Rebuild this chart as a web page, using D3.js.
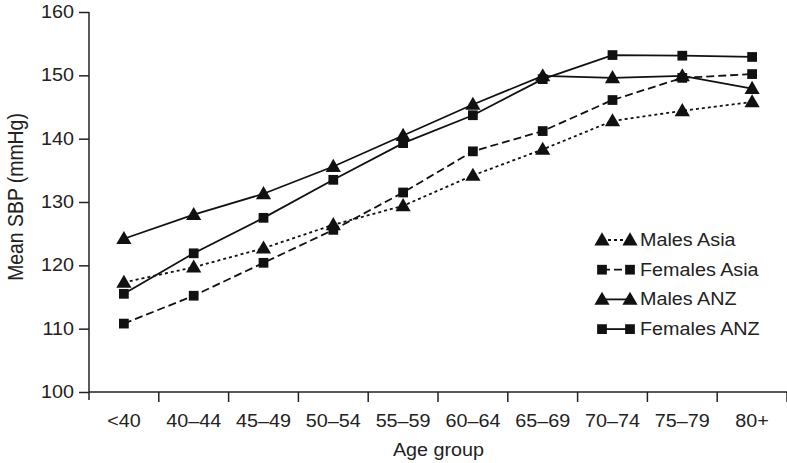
<!DOCTYPE html>
<html><head><meta charset="utf-8">
<script src="https://cdn.jsdelivr.net/npm/d3@7"></script>
<style>
html,body{margin:0;padding:0;background:#fff;}
text{font-family:"Liberation Sans",Arial,Helvetica,sans-serif;fill:#222;}
</style></head>
<body>
<svg id="chart" width="787" height="463"></svg>
<script>
const categories = ["<40","40–44","45–49","50–54","55–59","60–64","65–69","70–74","75–79","80+"];
const malesAsia   = [117.3,119.7,122.7,126.4,129.4,134.2,138.3,142.8,144.4,145.8];
const femalesAsia = [110.8,115.2,120.4,125.6,131.5,138.0,141.2,146.1,149.6,150.2];
const malesANZ    = [124.2,128.0,131.3,135.6,140.5,145.4,149.9,149.6,149.9,147.9];
const femalesANZ  = [115.5,121.9,127.5,133.5,139.3,143.7,149.4,153.2,153.1,152.9];
const yTicks = [100,110,120,130,140,150,160];
const seriesNames = ["Males Asia","Females Asia","Males ANZ","Females ANZ"];

(function(){
const series = [
  {name: seriesNames[0], values: malesAsia,   dash: "3,3", symbol: d3.symbolTriangle},
  {name: seriesNames[1], values: femalesAsia, dash: "8,4", symbol: d3.symbolSquare},
  {name: seriesNames[2], values: malesANZ,    dash: null,  symbol: d3.symbolTriangle},
  {name: seriesNames[3], values: femalesANZ,  dash: null,  symbol: d3.symbolSquare}
];

const FS = 17.5, SX = 1.13;
const svg = d3.select("#chart");
const mLeft = 89, mRight = 787, mTop = 12, mBottom = 392;

const x = d3.scaleBand().domain(categories).range([mLeft, mRight]);
const y = d3.scaleLinear().domain([100,160]).range([mBottom, mTop]);

// helper: horizontally stretched text placed at (px,py)
function stretchText(sel){
  sel.each(function(){
    const t = d3.select(this);
    const px = +t.attr("x") || 0, py = +t.attr("y") || 0;
    t.attr("x", 0).attr("y", 0)
     .attr("transform", `translate(${px},${py}) scale(${SX},1)`);
  });
}

// Y axis
const yAxis = svg.append("g").attr("transform", `translate(${mLeft},0)`)
  .call(d3.axisLeft(y).tickValues(yTicks).tickSize(10).tickPadding(5));
yAxis.select(".domain").attr("d", `M0,${mTop}V${mBottom+8}`);
yAxis.selectAll("path,line").attr("stroke","#222").attr("stroke-width",1.5);
yAxis.selectAll("text").attr("font-size",FS).style("fill","#222")
  .attr("font-family", null).call(stretchText);

// X axis with ticks at category boundaries
const bounds = d3.range(categories.length+1).map(i => mLeft + i*x.bandwidth());
const xg = svg.append("g");
xg.append("line").attr("x1", mLeft).attr("x2", mRight).attr("y1", mBottom).attr("y2", mBottom)
  .attr("stroke","#222").attr("stroke-width",1.5);
xg.selectAll("line.t").data(bounds.slice(1)).join("line").attr("class","t")
  .attr("x1", d=>d).attr("x2", d=>d).attr("y1", mBottom).attr("y2", mBottom+10)
  .attr("stroke","#222").attr("stroke-width",1.5);
xg.selectAll("text").data(categories).join("text")
  .attr("x", d => x(d) + x.bandwidth()/2).attr("y", mBottom + 35)
  .attr("text-anchor","middle").attr("font-size",FS).text(d=>d).call(stretchText);

// Axis titles
svg.append("text").attr("x", 438.5).attr("y", 456)
  .attr("text-anchor","middle").attr("font-size",FS).text("Age group").call(stretchText);
svg.append("text").attr("transform", `translate(22.5,197) scale(${SX},1) rotate(-90)`)
  .attr("text-anchor","middle").attr("font-size",19.4).text("Mean SBP (mmHg)");

// Lines
const line = d3.line().x((d,i) => x(categories[i]) + x.bandwidth()/2).y(d => y(d));
const sym = s => d3.symbol().type(s.symbol).size(s.symbol === d3.symbolSquare ? 95 : 100)();

series.forEach(s => {
  svg.append("path").datum(s.values).attr("d", line)
    .attr("fill","none").attr("stroke","#111").attr("stroke-width",1.8)
    .attr("stroke-dasharray", s.dash);
  svg.append("g").selectAll("path").data(s.values).join("path")
    .attr("d", sym(s))
    .attr("transform", (d,i) => `translate(${x(categories[i]) + x.bandwidth()/2},${y(d) + (s.symbol===d3.symbolTriangle?1:0)})`)
    .attr("fill","#111");
});

// Legend
const leg = svg.append("g");
series.forEach((s,i) => {
  const ly = 240 + i*29.7;
  const g = leg.append("g").attr("transform", `translate(0,${ly})`);
  g.append("line").attr("x1",602).attr("x2",630).attr("y1",0).attr("y2",0)
    .attr("stroke","#111").attr("stroke-width",1.8).attr("stroke-dasharray", s.dash);
  [602,630].forEach(px => g.append("path").attr("d", sym(s))
    .attr("transform", `translate(${px},${s.symbol===d3.symbolTriangle?1:0})`).attr("fill","#111"));
  g.append("text").attr("x",640).attr("y",6).attr("font-size",FS).text(s.name).call(stretchText);
});
})();
</script>
</body></html>
